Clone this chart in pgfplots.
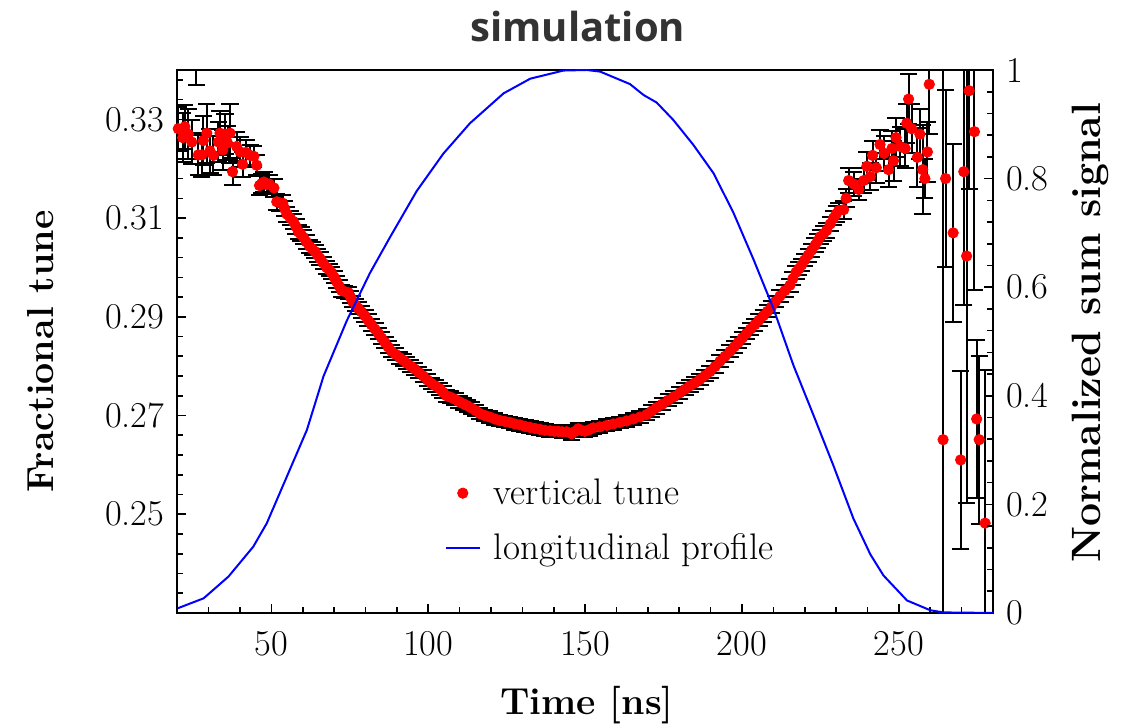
\documentclass[border=0pt]{standalone}
\usepackage{fontspec}
\usepackage{pgfplots}
\pgfplotsset{compat=1.18}
\newfontfamily\titlefont{Open Sans}

\pgfplotstableread{
x y e
20.3 0.3281 0.0045
21.7 0.3263 0.0050
22.4 0.3285 0.0045
23.5 0.3270 0.0050
24.6 0.3254 0.0045
26.0 0.3450 0.0080
26.7 0.3228 0.0040
27.8 0.3228 0.0045
28.3 0.3257 0.0050
29.4 0.3272 0.0060
30.4 0.3236 0.0045
31.5 0.3227 0.0040
33.1 0.3254 0.0040
33.6 0.3272 0.0045
34.5 0.3238 0.0040
35.2 0.3270 0.0040
36.0 0.3252 0.0035
36.8 0.3272 0.0060
37.6 0.3194 0.0028
38.9 0.3245 0.0030
40.0 0.3234 0.0030
40.8 0.3209 0.0025
41.9 0.3233 0.0025
43.2 0.3227 0.0022
44.4 0.3225 0.0022
45.3 0.3207 0.0020
46.2 0.3166 0.0020
46.9 0.3170 0.0020
47.6 0.3173 0.0020
48.5 0.3168 0.0019
49.3 0.3169 0.0018
50.8 0.3161 0.0018
51.7 0.3133 0.0016
52.6 0.3131 0.0016
53.6 0.3130 0.0016
54.2 0.3119 0.0015
54.9 0.3108 0.0015
56.0 0.3100 0.0015
57.0 0.3093 0.0015
57.8 0.3083 0.0015
58.6 0.3072 0.0014
59.4 0.3067 0.0014
60.2 0.3061 0.0014
61.1 0.3052 0.0014
62.1 0.3043 0.0013
63.0 0.3038 0.0013
63.9 0.3032 0.0013
64.7 0.3025 0.0013
65.5 0.3018 0.0013
66.5 0.3009 0.0013
67.6 0.3000 0.0013
68.4 0.2995 0.0012
69.2 0.2989 0.0012
70.0 0.2980 0.0012
70.8 0.2971 0.0012
71.6 0.2962 0.0012
72.4 0.2953 0.0012
73.4 0.2951 0.0012
74.5 0.2949 0.0012
75.2 0.2940 0.0012
75.9 0.2931 0.0012
76.8 0.2924 0.0012
77.7 0.2917 0.0012
78.7 0.2910 0.0012
79.8 0.2902 0.0012
80.8 0.2893 0.0012
81.9 0.2884 0.0012
83.0 0.2875 0.0012
84.1 0.2866 0.0012
85.1 0.2857 0.0012
86.2 0.2848 0.0012
87.2 0.2839 0.0012
88.3 0.2830 0.0012
89.6 0.2824 0.0012
90.9 0.2817 0.0012
92.0 0.2812 0.0012
93.1 0.2806 0.0012
94.4 0.2800 0.0012
95.7 0.2794 0.0012
97.0 0.2787 0.0012
98.4 0.2780 0.0012
99.7 0.2772 0.0012
101.0 0.2765 0.0012
102.3 0.2760 0.0012
103.7 0.2754 0.0012
104.7 0.2747 0.0012
105.8 0.2740 0.0012
107.1 0.2737 0.0012
108.5 0.2733 0.0012
109.8 0.2728 0.0012
111.1 0.2724 0.0012
112.4 0.2720 0.0012
113.8 0.2715 0.0012
115.1 0.2710 0.0012
116.4 0.2704 0.0012
118.0 0.2700 0.0012
119.6 0.2697 0.0012
121.2 0.2693 0.0012
122.8 0.2690 0.0012
124.4 0.2688 0.0012
126.0 0.2686 0.0012
127.6 0.2683 0.0012
129.2 0.2681 0.0012
130.8 0.2678 0.0012
132.4 0.2676 0.0012
134.0 0.2674 0.0012
135.6 0.2672 0.0012
137.2 0.2670 0.0012
138.8 0.2669 0.0012
140.1 0.2668 0.0012
141.4 0.2668 0.0012
142.7 0.2667 0.0012
144.1 0.2667 0.0012
145.7 0.2663 0.0012
146.8 0.2668 0.0012
147.8 0.2673 0.0012
148.8 0.2670 0.0012
149.9 0.2668 0.0012
151.2 0.2671 0.0012
152.6 0.2675 0.0012
154.7 0.2677 0.0012
156.9 0.2680 0.0012
159.0 0.2683 0.0012
161.1 0.2686 0.0012
163.2 0.2689 0.0012
165.4 0.2693 0.0012
167.5 0.2697 0.0012
169.6 0.2702 0.0012
171.2 0.2709 0.0012
172.8 0.2716 0.0012
174.6 0.2723 0.0012
176.5 0.2731 0.0012
178.3 0.2738 0.0012
180.2 0.2746 0.0012
181.8 0.2753 0.0012
183.4 0.2760 0.0012
185.0 0.2766 0.0012
186.6 0.2773 0.0012
188.2 0.2781 0.0012
189.8 0.2789 0.0012
191.4 0.2799 0.0012
193.0 0.2810 0.0012
194.6 0.2820 0.0012
196.2 0.2830 0.0012
197.5 0.2839 0.0012
198.8 0.2848 0.0012
200.1 0.2857 0.0012
201.4 0.2866 0.0012
202.7 0.2875 0.0012
204.1 0.2884 0.0012
205.4 0.2893 0.0012
206.8 0.2902 0.0012
208.1 0.2911 0.0012
209.4 0.2920 0.0012
210.7 0.2931 0.0012
212.1 0.2942 0.0012
213.7 0.2953 0.0012
215.3 0.2964 0.0013
216.2 0.2977 0.0013
217.2 0.2990 0.0013
218.1 0.2997 0.0013
219.0 0.3005 0.0013
220.0 0.3015 0.0013
221.1 0.3025 0.0013
222.2 0.3035 0.0013
223.3 0.3045 0.0014
224.1 0.3053 0.0014
224.9 0.3062 0.0014
226.0 0.3068 0.0015
227.0 0.3075 0.0015
228.1 0.3088 0.0015
229.2 0.3100 0.0015
230.0 0.3108 0.0016
230.8 0.3115 0.0016
232.4 0.3117 0.0018
233.2 0.3140 0.0018
234.0 0.3176 0.0025
235.6 0.3169 0.0025
237.2 0.3158 0.0022
238.8 0.3176 0.0025
239.8 0.3205 0.0028
240.9 0.3184 0.0028
241.6 0.3227 0.0030
242.8 0.3202 0.0030
244.0 0.3249 0.0030
245.3 0.3231 0.0035
246.7 0.3198 0.0035
247.8 0.3241 0.0035
248.3 0.3216 0.0040
249.1 0.3263 0.0040
250.4 0.3245 0.0040
252.0 0.3241 0.0040
252.5 0.3292 0.0040
253.1 0.3341 0.0050
254.1 0.3281 0.0050
255.9 0.3223 0.0060
256.7 0.3270 0.0050
257.6 0.3198 0.0090
258.3 0.3180 0.0040
259.1 0.3234 0.0060
259.7 0.3371 0.0100
264.1 0.2651 0.0800
264.9 0.3180 0.0180
267.3 0.3070 0.0180
269.7 0.2610 0.0180
270.7 0.3194 0.0270
271.6 0.3023 0.0500
272.4 0.3358 0.0200
274.1 0.3275 0.0320
274.8 0.2693 0.0160
275.6 0.2651 0.0170
277.5 0.2482 0.0310
}\tunedata

\pgfplotstableread{
x v
20.0 0.008
20.3 0.009
28.4 0.027
36.3 0.067
44.2 0.122
48.5 0.165
54.9 0.251
61.3 0.337
66.6 0.436
74.0 0.538
81.4 0.626
87.8 0.692
96.3 0.777
104.8 0.846
113.3 0.902
124.0 0.957
132.5 0.984
143.1 0.999
150.5 1.000
154.8 0.997
164.3 0.974
168.6 0.954
172.8 0.940
178.1 0.908
184.5 0.862
190.9 0.810
197.2 0.738
203.6 0.652
210.0 0.561
216.4 0.456
222.8 0.364
229.1 0.272
235.5 0.174
240.9 0.108
245.1 0.069
252.6 0.023
260.0 0.005
264.2 0.001
280.0 0.000
}\profdata

\pgfplotsset{
  common/.style={
    scale only axis, width=407.85pt, height=271.5pt,
    xmin=20, xmax=280,
    axis line style={line width=1pt},
    every tick/.style={line width=0.8pt, black},
    major tick length=4.5pt, minor tick length=2.8pt,
    tick label style={font=\fontsize{18.2}{21}\selectfont},
    label style={font=\bfseries\fontsize{18.8}{22}\selectfont},
  }
}

\begin{document}
\begin{tikzpicture}
\begin{axis}[common,
  ymin=0.23, ymax=0.34,
  xtick={50,100,150,200,250},
  xticklabels={50,100,150,200,250},
  minor xtick={20,30,...,280},
  ytick={0.25,0.27,0.29,0.31,0.33},
  yticklabels={0.25,0.27,0.29,0.31,0.33},
  minor ytick={0.234,0.238,...,0.339},
  xtick pos=bottom, ytick pos=left,
  x tick label style={yshift=-5.5pt},
  y tick label style={xshift=-3pt},
  xlabel={Time [ns]},
  xlabel style={at={(axis description cs:0.502,-0.169)}, anchor=center},
  ylabel={Fractional tune},
  ylabel style={at={(axis description cs:-0.168,0.482)}, anchor=center},
  legend style={at={(axis description cs:0.320,0.17)}, anchor=west, draw=none, fill=none,
    font=\fontsize{18.5}{22}\selectfont, row sep=9pt, column sep=4.5pt},
  legend cell align=left,
]
\addplot[only marks, mark=*, mark size=2.6pt, color=red, mark options={fill=red, draw=red},
  error bars/.cd, y dir=both, y explicit,
  error bar style={black, line width=1pt},
  error mark options={rotate=90, mark size=4.3pt, black, line width=1pt}]
  table[x=x, y=y, y error=e] {\tunedata};
\addlegendentry{vertical tune}
\addlegendimage{blue, line width=1pt}
\addlegendentry{longitudinal profile}
\coordinate (BL) at (axis description cs:-0.2174,-0.2099);
\coordinate (TR) at (axis description cs:1.1680,1.1289);
\coordinate (T) at (axis description cs:0.491,1.0516);
\end{axis}
\begin{axis}[common,
  ymin=0, ymax=1,
  axis y line*=right, axis x line=none,
  ytick={0,0.2,0.4,0.6,0.8,1},
  yticklabels={0,0.2,0.4,0.6,0.8,1},
  minor ytick={0.04,0.08,...,0.97},
  y tick label style={xshift=3pt},
  ylabel={Normalized sum signal},
  ylabel style={at={(axis description cs:1.119,0.516)}, anchor=center, font=\bfseries\fontsize{20.5}{24}\selectfont},
]
\addplot[blue, line width=1pt, no marks] table[x=x, y=v] {\profdata};
\end{axis}
\node[font=\titlefont\bfseries\fontsize{20}{24}\selectfont, text=black!80, anchor=base] at (T) {simulation};
\pgfresetboundingbox
\path (BL) rectangle (TR);
\end{tikzpicture}
\end{document}
